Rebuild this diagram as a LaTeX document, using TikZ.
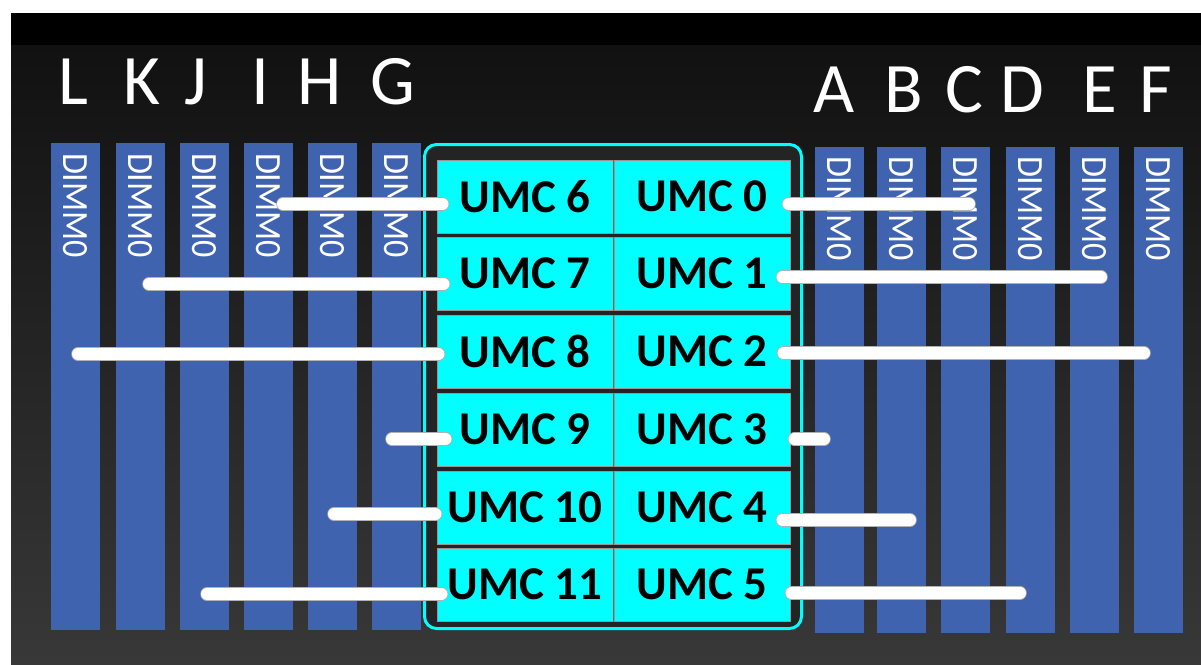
\documentclass[tikz,border=0pt]{standalone}
\usepackage{fontspec}
\setmainfont{Carlito}
\usetikzlibrary{calc}
\definecolor{dimmblue}{RGB}{63,99,174}
\definecolor{bgtop}{RGB}{17,17,17}
\definecolor{bgbot}{RGB}{56,56,56}
\definecolor{chipbg}{RGB}{36,36,36}
\definecolor{chipcyan}{RGB}{0,255,255}
\definecolor{cellborder}{RGB}{150,150,150}
\definecolor{divred}{RGB}{140,90,90}
\tikzset{
  dimmbar/.style={fill=dimmblue, draw=none, minimum width=49pt, inner sep=0pt},
  dimmtxt/.style={text=white, rotate=-90, inner sep=0pt, font=\fontsize{37}{37}\selectfont},
  letter/.style={text=white, anchor=base, inner sep=0pt, font=\fontsize{71}{71}\selectfont},
  umccell/.style={fill=chipcyan, draw=cellborder, line width=1pt, minimum width=176pt, minimum height=73pt, inner sep=0pt, text=black, font=\fontsize{47}{47}\selectfont\bfseries},
  wire/.style={white, line width=12pt, line cap=round, preaction={draw=gray!60, line width=13.5pt, line cap=round}},
  divider/.style={draw=divred, line width=1pt}
}
\begin{document}
\begin{tikzpicture}[x=1pt,y=-1pt]
\useasboundingbox (0,0) rectangle (1201,664);
\fill[white] (0,0) rectangle (1201,664);
\fill[black] (11,13) rectangle (1201,45);
\shade[top color=bgtop, bottom color=bgbot] (11,45) rectangle (1201,664);

% DIMM bars, left group
\foreach \x/\n in {51/1,116/2,180/3,244/4,308/5,372/6}{
  \node[dimmbar, minimum height=487pt] (dL\n) at (\x+24.5,386.5) {};
  \node[dimmtxt] (tL\n) at (\x+24.5,205.5) {\scalebox{0.92}[1]{DIMM0}};
}
% DIMM bars, right group
\foreach \x/\n in {815/1,877/2,941/3,1006/4,1070/5,1134/6}{
  \node[dimmbar, minimum height=486pt] (dR\n) at (\x+24.5,390) {};
  \node[dimmtxt] (tR\n) at (\x+24.5,208.5) {\scalebox{0.92}[1]{DIMM0}};
}

% channel letters
\node[letter] (lL) at (73,104) {L};
\node[letter] (lK) at (142,104) {K};
\node[letter] (lJ) at (196,104) {J};
\node[letter] (lI) at (260,104) {I};
\node[letter] (lH) at (320,104) {H};
\node[letter] (lG) at (393,104) {G};
\node[letter] (lA) at (834,112) {A};
\node[letter] (lB) at (904,112) {B};
\node[letter] (lC) at (964,112) {C};
\node[letter] (lD) at (1022,112) {D};
\node[letter] (lE) at (1100,112) {E};
\node[letter] (lF) at (1156,112) {F};

% chip outline
\draw[chipcyan, line width=3pt, rounded corners=12pt, fill=chipbg] (424.5,144.5) rectangle (801.5,628.5);

% UMC cells
\foreach \y/\l/\r in {196.5/6/0, 273.5/7/1, 351.5/8/2, 429.5/9/3, 507.5/10/4, 584.5/11/5}{
  \node[umccell] (u\l) at (525,\y) {UMC \l};
  \node[umccell] (u\r) at (702,\y) {UMC \r};
  \draw[divider] (u\l.north east) -- (u\l.south east);
}

% connectors, left
\coordinate (a6) at (283,204);
\coordinate (a7) at (149,284);
\coordinate (a8) at (78,354);
\coordinate (a9) at (392,439);
\coordinate (a10) at (334,514);
\coordinate (a11) at (207,594);
\draw[wire] (a6) -- ($(a6 -| u6.west)+(6,0)$);
\draw[wire] (a7) -- ($(a7 -| u7.west)+(7,0)$);
\draw[wire] (a8) -- ($(a8 -| u8.west)+(2,0)$);
\draw[wire] (a9) -- ($(a9 -| u9.west)+(9,0)$);
\draw[wire] (a10) -- ($(a10 -| u10.west)+(-1,0)$);
\draw[wire] (a11) -- ($(a11 -| u11.west)+(5,0)$);

% connectors, right
\coordinate (b0) at (969,204);
\coordinate (b1) at (1101,277);
\coordinate (b2) at (1144,353);
\coordinate (b3) at (824,439);
\coordinate (b4) at (910,520);
\coordinate (b5) at (1020,593);
\draw[wire] ($(b0 -| u0.east)+(-2,0)$) -- (b0);
\draw[wire] ($(b1 -| u1.east)+(-8,0)$) -- (b1);
\draw[wire] ($(b2 -| u2.east)+(-7,0)$) -- (b2);
\draw[wire] ($(b3 -| u3.east)+(4,0)$) -- (b3);
\draw[wire] ($(b4 -| u4.east)+(-8,0)$) -- (b4);
\draw[wire] ($(b5 -| u5.east)+(1,0)$) -- (b5);
\end{tikzpicture}
\end{document}
